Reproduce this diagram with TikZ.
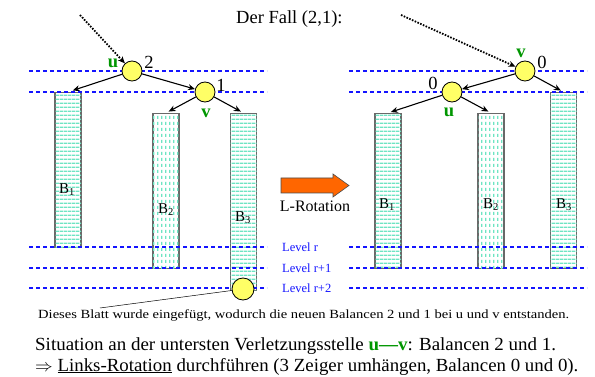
\documentclass[tikz,border=0pt]{standalone}
\usepackage{fontspec}
\setmainfont{Liberation Serif}
\usetikzlibrary{arrows.meta, positioning, patterns}
\definecolor{knotengelb}{RGB}{255,255,102}
\definecolor{markgruen}{RGB}{0,150,0}
\definecolor{levelblau}{RGB}{20,20,255}
\definecolor{muster}{RGB}{110,228,195}
\definecolor{rahmengrau}{RGB}{105,105,105}
\definecolor{rotorange}{RGB}{255,102,0}
\newcommand\schriftgross{\fontsize{18.5}{21}\selectfont}
\newcommand\schriftmittel{\fontsize{15}{18}\selectfont}
\newcommand\schriftklein{\fontsize{12.5}{15}\selectfont}
% Schraffuren der Teilbaeume
\pgfdeclarepatternformonly{hbande}{\pgfpointorigin}{\pgfpoint{4pt}{4pt}}{\pgfpoint{4pt}{4pt}}{%
  \pgfpathrectangle{\pgfpoint{0pt}{1.4pt}}{\pgfpoint{4pt}{1.4pt}}\pgfusepath{fill}}
\pgfdeclarepatternformonly{vstrich}{\pgfpointorigin}{\pgfpoint{4pt}{6pt}}{\pgfpoint{4pt}{6pt}}{%
  \pgfpathrectangle{\pgfpoint{1.4pt}{0pt}}{\pgfpoint{1.4pt}{3.6pt}}\pgfusepath{fill}}

\begin{document}
\begin{tikzpicture}[x=1pt, y=-1pt,
			knoten/.style={circle, draw=black, fill=knotengelb, minimum size=20pt, inner sep=0pt, line width=0.8pt},
			baumgrund/.style={rectangle, draw=rahmengrau, line width=1.3pt, fill=white, minimum width=26pt, inner sep=0pt, anchor=north},
			baumh/.style={baumgrund, postaction={pattern=hbande, pattern color=muster}},
			baumv/.style={baumgrund, postaction={pattern=vstrich, pattern color=muster}},
			pfeil/.style={-{Stealth[length=7pt, width=6pt]}, line width=1.1pt},
			zeiger/.style={-{Stealth[length=7pt, width=6pt]}, line width=1.8pt, dash pattern=on 1.6pt off 1.4pt},
			niveau/.style={draw=levelblau, line width=1.1pt, dash pattern=on 4pt off 3pt},
			marke/.style={text=markgruen, font=\schriftgross\bfseries, inner sep=0pt},
			wert/.style={font=\schriftgross, inner sep=0pt},
			blattname/.style={font=\schriftmittel, inner sep=0pt},
			levelname/.style={text=levelblau, font=\schriftklein, anchor=west, inner sep=0pt}
			]
			\useasboundingbox (0,0) rectangle (595,377);
			
			% Titel
			\node[wert, anchor=base west] (titel) at (236,24) {Der Fall (2,1):};
			
			% Teilbaeume vorher
			\node[baumh, minimum height=155pt] (b1L) at (68,92) {};
			\node[baumv, minimum height=155pt] (b2L) at (166,113) {};
			\node[baumh, minimum height=177pt] (b3L) at (243.5,113) {};
			
			% Teilbaeume nachher
			\node[baumh, minimum height=155pt] (b1R) at (388,113) {};
			\node[baumv, minimum height=155pt] (b2R) at (491,113) {};
			\node[baumh, minimum height=176pt] (b3R) at (563.5,92) {};
			
			% Levels
			\foreach \y in {71,92,247,268,288} {
				\draw[niveau] (29,\y) -- (267,\y);
				\draw[niveau] (349,\y) -- (587,\y);
			}
			\node[levelname] (lvr) at (282,247) {Level r};
			\node[levelname] (lvr1) at (282,268) {Level r+1};
			\node[levelname] (lvr2) at (282,288) {Level r+2};
			
			\node[blattname] at (67,190) {B\textsubscript{1}};
			\node[blattname] at (166,210) {B\textsubscript{2}};
			\node[blattname] at (243,218) {B\textsubscript{3}};
			\node[blattname] at (387,205) {B\textsubscript{1}};
			\node[blattname] at (491,205) {B\textsubscript{2}};
			\node[blattname] at (564,205) {B\textsubscript{3}};
			
			% Knoten vorher
			\node[knoten] (uL) at (132,71) {};
			\node[knoten] (vL) at (205,92) {};
			\node[knoten, minimum size=22pt] (blatt) at (243,289) {};
			\node[marke] at (113,63) {u};
			\node[wert] at (149,62) {2};
			\node[wert] at (221,85) {1};
			\node[marke] at (206,113) {v};
			
			% Knoten nachher
			\node[knoten] (vR) at (525,71) {};
			\node[knoten] (uR) at (452,92) {};
			\node[marke] at (521,53) {v};
			\node[wert] at (542,62) {0};
			\node[wert] at (433,83) {0};
			\node[marke] at (449,112) {u};
			
			% Zeiger
			\coordinate (einL) at (80,15);
			\coordinate (einR) at (401,15);
			\draw[zeiger] (einL) -- (uL);
			\draw[zeiger] (einR) -- (vR);
			\draw[pfeil] (uL) -- (vL);
			\draw[pfeil, shorten >=5pt] (uL) -- (b1L.north);
			\draw[pfeil, shorten >=3pt] (vL) -- (b2L.north);
			\draw[pfeil, shorten >=3pt] (vL) -- (b3L.north);
			\draw[pfeil] (vR) -- (uR);
			\draw[pfeil, shorten >=3pt] (vR) -- (b3R.north);
			\draw[pfeil, shorten >=3pt] (uR) -- (b1R.north);
			\draw[pfeil, shorten >=3pt] (uR) -- (b2R.north);
			
			% Rotationspfeil
			\draw[fill=rotorange, draw=black!70, line width=0.6pt] (281,178) -- (333,178) -- (333,174) -- (349,185.5) -- (333,197) -- (333,193) -- (281,193) -- cycle;
			\node[font=\fontsize{16}{18}\selectfont, inner sep=0pt] (rot) at (315,206) {L-Rotation};
			
			% Erklaerung
			\node[anchor=base west, font=\fontsize{12.5}{14}\selectfont, inner sep=0pt] (notiz) at (38,318) {\scalebox{1.165}[1]{Dieses Blatt wurde eingefügt, wodurch die neuen Balancen 2 und 1 bei u und v entstanden.}};
			\coordinate (notizecke) at (100,308);
			\draw[line width=0.5pt] (notizecke) -- (blatt);
			\node[anchor=base west, font=\schriftgross, inner sep=0pt] (zeile1) at (35,350) {\scalebox{1.025}[1]{Situation an der untersten Verletzungsstelle \textcolor{markgruen}{\textbf{u---v}}: Balancen 2 und 1.}};
			\node[anchor=base west, font=\schriftgross, inner sep=0pt] (zeile2) at (35,371) {\scalebox{1.02}[1]{$\Rightarrow$ \underline{Links-Rotation} durchführen (3 Zeiger umhängen, Balancen 0 und 0).}};
		\end{tikzpicture}
\end{document}
